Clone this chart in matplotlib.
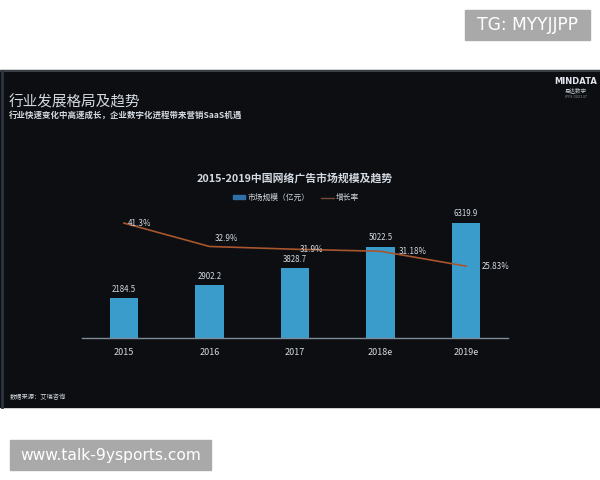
#!/usr/bin/env python3
# -*- coding: utf-8 -*-

import matplotlib
matplotlib.use('Agg')
import matplotlib.pyplot as plt
from matplotlib.patches import Rectangle
from matplotlib.lines import Line2D

plt.rcParams['font.family'] = ['Noto Sans CJK SC', 'DejaVu Sans']

# data
years = ['2015', '2016', '2017', '2018e', '2019e']
market_size = [2184.5, 2902.2, 3828.7, 5022.5, 6319.9]
growth_rate = [41.3, 32.9, 31.9, 31.18, 25.83]
growth_labels = ['41.3%', '32.9%', '31.9%', '31.18%', '25.83%']

W, H = 600, 480
BG = '#0c0e12'
TXT = '#d3dae1'
BAR = '#3a9ccb'
LINE = '#a8562e'


def px(x0, y0, x1, y1):
    # pixel box (top-left origin) -> figure fraction rect
    return [x0 / W, 1 - y1 / H, (x1 - x0) / W, (y1 - y0) / H]


fig = plt.figure(figsize=(6, 4.8), dpi=100, facecolor='white')

# slide background
bg = fig.add_axes([0, 0, 1, 1])
bg.set_xlim(0, W)
bg.set_ylim(H, 0)
bg.axis('off')
bg.add_patch(Rectangle((0, 70), W, 337, color=BG))
bg.plot([0, W], [70.5, 70.5], color='#45494f', lw=1.2)
bg.plot([1.5, 1.5], [71, 407], color='#2c3440', lw=2)

# watermark boxes
bg.add_patch(Rectangle((465, 10), 125, 30, color='#a9a9a9'))
bg.text(527.5, 25.5, 'TG: MYYJJPP', color='white', fontsize=12.3,
        family='DejaVu Sans', ha='center', va='center')
bg.add_patch(Rectangle((10, 440), 201, 30, color='#a9a9a9'))
bg.text(110.5, 455.5, 'www.talk-9ysports.com', color='white', fontsize=11.2,
        family='DejaVu Sans', ha='center', va='center')

# slide texts
bg.text(9, 102, '行业发展格局及趋势', color=TXT, fontsize=10.5, va='center')
bg.text(9, 115, '行业快速变化中高速成长，企业数字化进程带来营销SaaS机遇',
        color=TXT, fontsize=6.1, va='center', fontweight='bold')
bg.text(10, 397, '数据来源：艾瑞咨询', color=TXT, fontsize=4.5, va='center')
bg.text(576, 81, 'MINDATA', color='#e0e6ec', fontsize=6, fontweight='bold',
        family='DejaVu Sans', ha='center', va='center')
bg.text(576, 90, '易达数字', color='#c8ced4', fontsize=4, ha='center', va='center')
bg.text(576, 97, 'IPFS 002137', color='#8a9098', fontsize=2.5,
        family='DejaVu Sans', ha='center', va='center')

# chart
bg.text(295, 179, '2015-2019中国网络广告市场规模及趋势', color=TXT,
        fontsize=7.8, fontweight='bold', ha='center', va='center')

ax = fig.add_axes(px(82, 200, 508, 338))
ax.set_facecolor('none')
x = list(range(len(years)))
bars = ax.bar(x, market_size, width=0.33, color=BAR, zorder=2)
ax.set_xlim(-0.49, 4.49)
ax.set_ylim(0, 7580)
for b, v in zip(bars, market_size):
    ax.annotate(f'{v:.1f}', (b.get_x() + b.get_width() / 2, v),
                xytext=(0, 9), textcoords='offset pixels', ha='center',
                va='center', color=TXT, fontsize=5.7)
for s in ['top', 'right', 'left']:
    ax.spines[s].set_visible(False)
ax.spines['bottom'].set_color('#7d8c99')
ax.spines['bottom'].set_linewidth(1)
ax.set_yticks([])
ax.set_xticks(x)
ax.set_xticklabels(years, color=TXT, fontsize=6.5)
ax.tick_params(axis='x', length=0, pad=7)

ax2 = ax.twinx()
ax2.set_ylim(0, 49.6)
ax2.plot(x, growth_rate, color=LINE, lw=1.2, zorder=3)
ax2.axis('off')
offsets = [(4, 0), (5, 8), (5, 0), (18, 0), (16, 0)]
for xi, v, lab, off in zip(x, growth_rate, growth_labels, offsets):
    ax2.annotate(lab, (xi, v), xytext=off, textcoords='offset pixels',
                 ha='left', va='center', color=TXT, fontsize=5.8)

handles = [Rectangle((0, 0), 1, 1, color='#2f6fa8'),
           Line2D([0], [0], color='#7a4a36', lw=1)]
leg = fig.legend(handles, ['市场规模（亿元）', '增长率'], loc='center',
                 bbox_to_anchor=(296 / W, 1 - 198 / H), ncol=2, frameon=False,
                 fontsize=5.6, handlelength=1.6, handleheight=0.4,
                 columnspacing=1.5, handletextpad=0.3)
for t in leg.get_texts():
    t.set_color(TXT)

fig.savefig('out.png', dpi=100, facecolor='white')
